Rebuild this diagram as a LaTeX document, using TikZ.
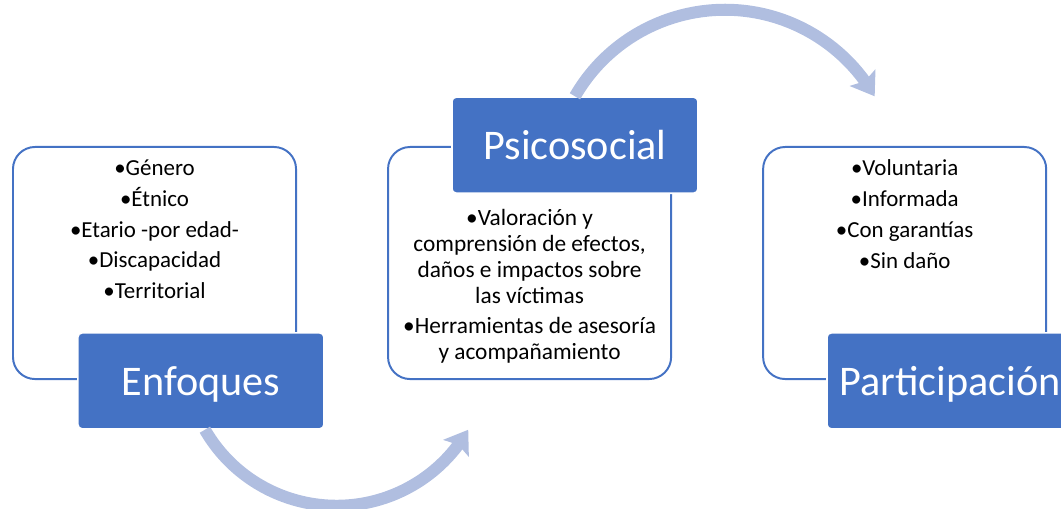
\documentclass[tikz,border=0pt]{standalone}
\usepackage{fontspec}
\setmainfont{Carlito}
\usetikzlibrary{arrows.meta,positioning,calc,bending}
\definecolor{accent}{HTML}{4472C4}
\definecolor{pale}{HTML}{B0BEE0}
\tikzset{
  panel/.style={
    draw=accent, line width=1.4pt, rounded corners=0.55cm,
    minimum width=7.075cm, minimum height=5.8cm, inner sep=0pt
  },
  tag/.style={
    fill=accent, draw=white, line width=1.2pt, rounded corners=3pt,
    minimum width=6.15cm, minimum height=2.4cm, inner sep=0pt,
    text=white, text height=22pt, text depth=1.5pt,
    font=\fontsize{30}{36}\selectfont
  },
  items/.style={align=center, inner sep=0pt, font=\fontsize{16.3}{22}\selectfont},
  dense/.style={items, font=\fontsize{16.6}{18.4}\selectfont},
  flow/.style={draw=pale, line width=0.3cm, -{Stealth[length=5.5mm,width=7.5mm,inset=1mm,flex]}}
}

\begin{document}
\begin{tikzpicture}[x=0.025cm, y=0.025cm, node distance=2.25cm]
    \useasboundingbox (0,0) rectangle (1061,508);
    \clip (0,0) rectangle (1061,508);
    % paneles
    \node[panel, anchor=north west] (enf-p) at (12,362) {};
    \node[panel, right=of enf-p] (psi-p) {};
    \node[panel, right=of psi-p] (par-p) {};
    % etiquetas
    \node[tag, anchor=north west] (enf) at ([xshift=1.625cm, yshift=1.2cm]enf-p.south west) {Enfoques};
    \node[tag, anchor=south west] (psi) at ([xshift=1.6cm, yshift=-1.2cm]psi-p.north west) {Psicosocial};
    \node[tag, anchor=north west] (par) at ([xshift=1.6cm, yshift=1.2cm]par-p.south west) {Participación};
    % listas
    \node[items, anchor=north] (enf-t) at ([yshift=-0.33cm]enf-p.north) {%
      •Género\\ •Étnico\\ •Etario -por edad-\\ •Discapacidad\\ •Territorial};
    \node[dense, anchor=north] (psi-t) at ([yshift=-0.38cm]psi-p.north |- psi.south) {%
      •Valoración y\\ comprensión de efectos,\\ daños e impactos sobre\\ las víctimas\\[3pt]
      •Herramientas de asesoría\\ y acompañamiento};
    \node[items, anchor=north] (par-t) at ([yshift=-0.33cm]par-p.north) {%
      •Voluntaria\\ •Informada\\ •Con garantías\\ •Sin daño};
    % flechas
    \draw[flow] ([xshift=0.1cm]enf.south) arc[start angle=210, end angle=330, radius=3.8cm];
    \draw[flow] (psi.north) arc[start angle=150, end angle=30, radius=4.325cm];
  \end{tikzpicture}
\end{document}
